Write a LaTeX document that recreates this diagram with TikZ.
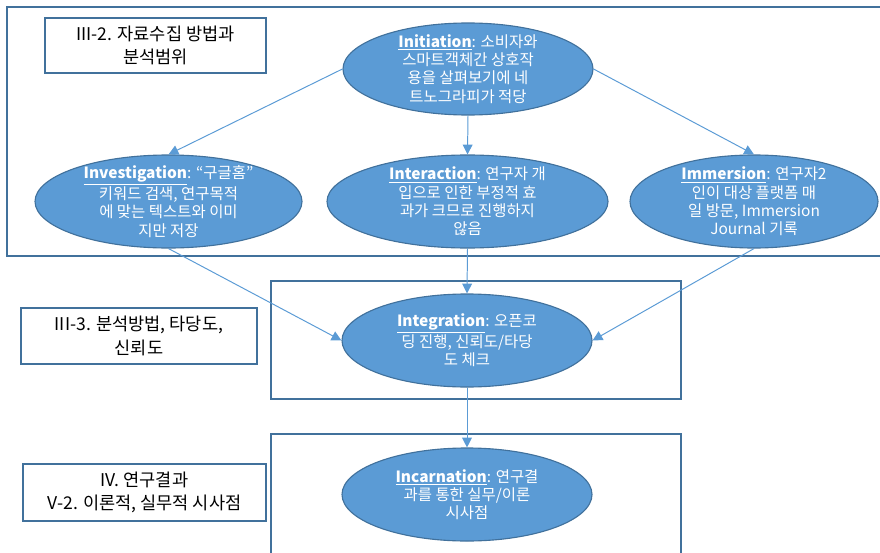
\documentclass[tikz,border=0pt]{standalone}
\usepackage{fontspec}
\setmainfont{Noto Sans CJK KR}
\usetikzlibrary{shapes.geometric,arrows.meta}
\definecolor{stageblue}{HTML}{5B9BD5}
\definecolor{edgeblue}{HTML}{41719C}

\begin{document}
\begin{tikzpicture}[snode/.style={ellipse, draw=edgeblue, line width=0.8pt, fill=stageblue, text=white, align=center, inner xsep=0pt, inner ysep=-3pt, minimum width=6.25cm, minimum height=2.325cm, font=\fontsize{11}{13}\selectfont}, tnode/.style={draw=edgeblue, line width=1.1pt, fill=white, align=center, font=\fontsize{12.5}{16.5}\selectfont}, stagebox/.style={draw=edgeblue, line width=1.1pt}]
    \useasboundingbox (0,0) rectangle (22,-13.8);
    \clip (0,0) rectangle (22,-13.8);

    \draw[stagebox] (0.175,-0.175) rectangle (22.6,-6.4);
    \draw[stagebox] (6.775,-7.025) rectangle (17.025,-9.975);
    \draw[stagebox] (6.775,-10.85) rectangle (17.025,-14.2);

    \node[tnode, minimum width=5.525cm, minimum height=1.375cm] (sec2) at (3.8875,-1.1375) {III-2. 자료수집 방법과\\분석범위};
    \node[tnode, minimum width=5.9cm, minimum height=1.4cm] (sec3) at (3.475,-8.4) {III-3. 분석방법, 타당도,\\신뢰도};
    \node[tnode, minimum width=6.075cm, minimum height=1.425cm] (sec4) at (3.6125,-12.3125) {IV. 연구결과\\V-2. 이론적, 실무적 시사점};

    \node[snode, minimum height=2.3cm] (init) at (11.7,-1.725) {\underline{\textbf{Initiation}}: 소비자와\\스마트객체간 상호작\\용을 살펴보기에 네\\트노그라피가 적당};
    \node[snode, minimum width=6.675cm] (invest) at (4.2125,-5.0375) {\underline{\textbf{Investigation}}: “구글홈”\\키워드 검색, 연구목적\\에 맞는 텍스트와 이미\\지만 저장};
    \node[snode, minimum width=7.025cm] (interact) at (11.6875,-5.0375) {\underline{\textbf{Interaction}}: 연구자 개\\입으로 인한 부정적 효\\과가 크므로 진행하지\\않음};
    \node[snode, minimum width=6.2cm] (immerse) at (18.85,-5.0375) {\underline{\textbf{Immersion}}: 연구자2\\인이 대상 플랫폼 매\\일 방문, Immersion\\Journal 기록};
    \node[snode] (integ) at (11.675,-8.5125) {\underline{\textbf{Integration}}: 오픈코\\딩 진행, 신뢰도/타당\\도 체크};
    \node[snode] (incarn) at (11.675,-12.3625) {\underline{\textbf{Incarnation}}: 연구결\\과를 통한 실무/이론\\시사점};

   \begin{scope}[>={Triangle[length=7pt,width=7pt]}, color=stageblue, line width=0.7pt]
    \draw[->] (init.west) to (invest.north) ;
    \draw[->] (init.south) to (interact.north) ;
    \draw[->] (init.east) to (immerse.north) ;
    \draw[->] (invest.south) to (integ.west) ;
    \draw[->] (interact.south) to (integ.north) ;
    \draw[->] (immerse.south) to (integ.east) ;
    \draw[->] (integ.south) to (incarn.north) ;
   \end{scope}
\end{tikzpicture}
\end{document}
